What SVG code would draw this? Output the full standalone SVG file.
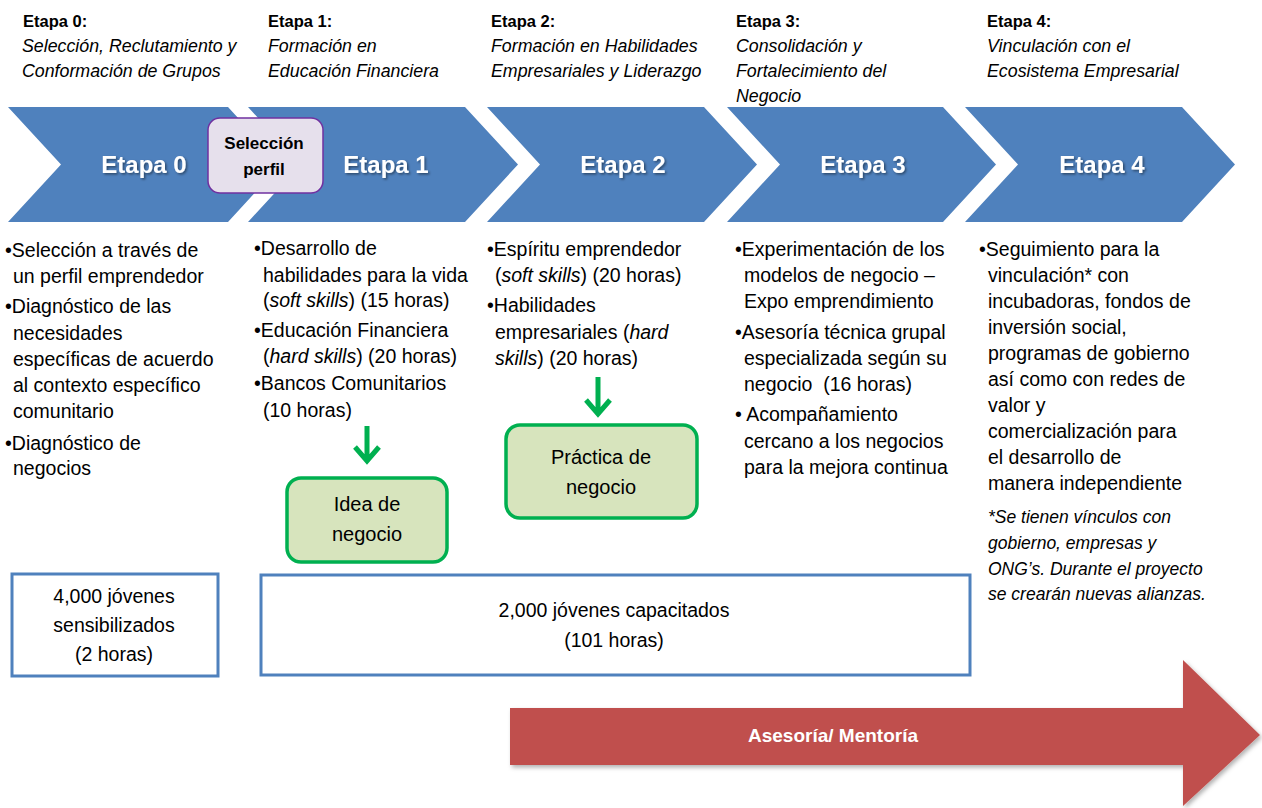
<svg xmlns="http://www.w3.org/2000/svg" width="1262" height="808" viewBox="0 0 1262 808">
<defs>
<style>
text{font-family:"Liberation Sans",Arial,sans-serif;fill:#000}
.hb{font-size:16.5px;font-weight:bold}
.hi{font-size:17.8px;font-style:italic}
.chev{fill:#4F81BD}
.ct{font-size:24px;font-weight:bold;fill:#fff;text-anchor:middle}
.b{font-size:19.5px}
.i{font-style:italic}
.note{font-size:17.5px;font-style:italic}
.gbox{fill:#D7E4BD;stroke:#00B050;stroke-width:3.5}
.gt{font-size:20px;text-anchor:middle}
.bbox{fill:#fff;stroke:#4F81BD;stroke-width:3}
.bt{font-size:19.5px;text-anchor:middle}
.ga{fill:none;stroke:#00B050;stroke-width:5}
</style>
<filter id="ts" x="-10%" y="-20%" width="130%" height="160%">
<feDropShadow dx="1.5" dy="1.5" stdDeviation="1" flood-color="#000" flood-opacity="0.45"/>
</filter>
<filter id="sh" x="-5%" y="-10%" width="115%" height="130%">
<feDropShadow dx="2" dy="2.5" stdDeviation="2" flood-color="#000" flood-opacity="0.3"/>
</filter>
</defs>
<rect width="1262" height="808" fill="#fff"/>

<g id="header0">
<text class="hb" x="23" y="27">Etapa 0:</text>
<text class="hi" x="22" y="52">Selección, Reclutamiento y</text>
<text class="hi" x="22" y="77">Conformación de Grupos</text>
</g>
<g id="header1">
<text class="hb" x="268" y="27">Etapa 1:</text>
<text class="hi" x="268" y="52">Formación en</text>
<text class="hi" x="268" y="77">Educación Financiera</text>
</g>
<g id="header2">
<text class="hb" x="491" y="27">Etapa 2:</text>
<text class="hi" x="491" y="52">Formación en Habilidades</text>
<text class="hi" x="491" y="77">Empresariales y Liderazgo</text>
</g>

<g id="stage0">
<polygon class="chev" points="8,107 228,107 281,164.5 228,222 8,222 61,164.5"/>
<text class="ct" x="144" y="173" filter="url(#ts)">Etapa 0</text>
</g>
<g id="stage1">
<polygon class="chev" points="248,107 465,107 518,164.5 465,222 248,222 301,164.5"/>
<text class="ct" x="386" y="173" filter="url(#ts)">Etapa 1</text>
</g>
<g id="stage2">
<polygon class="chev" points="487,107 704,107 757,164.5 704,222 487,222 540,164.5"/>
<text class="ct" x="623" y="173" filter="url(#ts)">Etapa 2</text>
</g>
<g id="stage3">
<polygon class="chev" points="727,107 943,107 996,164.5 943,222 727,222 780,164.5"/>
<text class="ct" x="863" y="173" filter="url(#ts)">Etapa 3</text>
</g>
<g id="stage4">
<polygon class="chev" points="965,107 1182,107 1235,164.5 1182,222 965,222 1018,164.5"/>
<text class="ct" x="1102" y="173" filter="url(#ts)">Etapa 4</text>
</g>

<g id="header3">
<text class="hb" x="736" y="27">Etapa 3:</text>
<text class="hi" x="736" y="52">Consolidación y</text>
<text class="hi" x="736" y="77">Fortalecimiento del</text>
<text class="hi" x="736" y="102">Negocio</text>
</g>
<g id="header4">
<text class="hb" x="987" y="27">Etapa 4:</text>
<text class="hi" x="987" y="52">Vinculación con el</text>
<text class="hi" x="987" y="77">Ecosistema Empresarial</text>
</g>

<g id="seleccion-perfil">
<rect x="208" y="118" width="115" height="75" rx="12" fill="#E6E0EC" stroke="#7030A0" stroke-width="1.5"/>
<text x="264" y="149" font-size="17" font-weight="bold" text-anchor="middle">Selección</text>
<text x="264" y="175" font-size="17" font-weight="bold" text-anchor="middle">perfil</text>
</g>

<g id="list0">
<text class="b" x="5" y="257">•Selección a través de</text>
<text class="b" x="13" y="283">un perfil emprendedor</text>
<text class="b" x="5" y="313">•Diagnóstico de las</text>
<text class="b" x="13" y="340">necesidades</text>
<text class="b" x="13" y="366">específicas de acuerdo</text>
<text class="b" x="13" y="392">al contexto específico</text>
<text class="b" x="13" y="418">comunitario</text>
<text class="b" x="5" y="450">•Diagnóstico de</text>
<text class="b" x="13" y="475">negocios</text>
</g>

<g id="list1">
<text class="b" x="254" y="255">•Desarrollo de</text>
<text class="b" x="263" y="282">habilidades para la vida</text>
<text class="b" x="263" y="307">(<tspan class="i">soft skills</tspan>) (15 horas)</text>
<text class="b" x="254" y="337">•Educación Financiera</text>
<text class="b" x="263" y="363">(<tspan class="i">hard skills</tspan>) (20 horas)</text>
<text class="b" x="254" y="390">•Bancos Comunitarios</text>
<text class="b" x="263" y="417">(10 horas)</text>
</g>

<g id="list2">
<text class="b" x="487" y="256">•Espíritu emprendedor</text>
<text class="b" x="495" y="282">(<tspan class="i">soft skills</tspan>) (20 horas)</text>
<text class="b" x="487" y="312">•Habilidades</text>
<text class="b" x="495" y="339">empresariales (<tspan class="i">hard</tspan></text>
<text class="b" x="495" y="365"><tspan class="i">skills</tspan>) (20 horas)</text>
</g>

<g id="list3">
<text class="b" x="735" y="256">•Experimentación de los</text>
<text class="b" x="744" y="282">modelos de negocio –</text>
<text class="b" x="744" y="308">Expo emprendimiento</text>
<text class="b" x="735" y="339">•Asesoría técnica grupal</text>
<text class="b" x="744" y="365">especializada según su</text>
<text class="b" x="744" y="391" xml:space="preserve">negocio  (16 horas)</text>
<text class="b" x="735" y="421" xml:space="preserve">• Acompañamiento</text>
<text class="b" x="744" y="448">cercano a los negocios</text>
<text class="b" x="744" y="474">para la mejora continua</text>
</g>

<g id="list4">
<text class="b" x="979" y="256">•Seguimiento para la</text>
<text class="b" x="988" y="282">vinculación* con</text>
<text class="b" x="988" y="308">incubadoras, fondos de</text>
<text class="b" x="988" y="334">inversión social,</text>
<text class="b" x="988" y="360">programas de gobierno</text>
<text class="b" x="988" y="386">así como con redes de</text>
<text class="b" x="988" y="412">valor y</text>
<text class="b" x="988" y="438">comercialización para</text>
<text class="b" x="988" y="464">el desarrollo de</text>
<text class="b" x="988" y="490">manera independiente</text>
<text class="note" x="988" y="523">*Se tienen vínculos con</text>
<text class="note" x="988" y="549">gobierno, empresas y</text>
<text class="note" x="988" y="575">ONG’s. Durante el proyecto</text>
<text class="note" x="988" y="600">se crearán nuevas alianzas.</text>
</g>

<g id="connectors">
<path class="ga" d="M367,426 V460 M355,447 L367,461 L379,447"/>
<path class="ga" d="M598,377 V413 M586,400 L598,414 L610,400"/>
</g>

<g id="idea-negocio">
<rect class="gbox" x="287" y="478" width="160" height="84" rx="14"/>
<text class="gt" x="367" y="511">Idea de</text>
<text class="gt" x="367" y="541">negocio</text>
</g>
<g id="practica-negocio">
<rect class="gbox" x="506" y="425" width="191" height="93" rx="14"/>
<text class="gt" x="601" y="464">Práctica de</text>
<text class="gt" x="601" y="494">negocio</text>
</g>

<g id="box-sensibilizados">
<rect class="bbox" x="12" y="574" width="206" height="102"/>
<text class="bt" x="114" y="603">4,000 jóvenes</text>
<text class="bt" x="114" y="632">sensibilizados</text>
<text class="bt" x="114" y="661">(2 horas)</text>
</g>
<g id="box-capacitados">
<rect class="bbox" x="261" y="575" width="709" height="100"/>
<text class="bt" x="614" y="617">2,000 jóvenes capacitados</text>
<text class="bt" x="614" y="647">(101 horas)</text>
</g>

<g id="asesoria-mentoria">
<polygon points="510,708 1183,708 1183,660 1260,735 1183,806 1183,765 510,765" fill="#C0504D" filter="url(#sh)"/>
<text x="833" y="742" font-size="19" font-weight="bold" text-anchor="middle" style="fill:#fff">Asesoría/ Mentoría</text>
</g>
</svg>
